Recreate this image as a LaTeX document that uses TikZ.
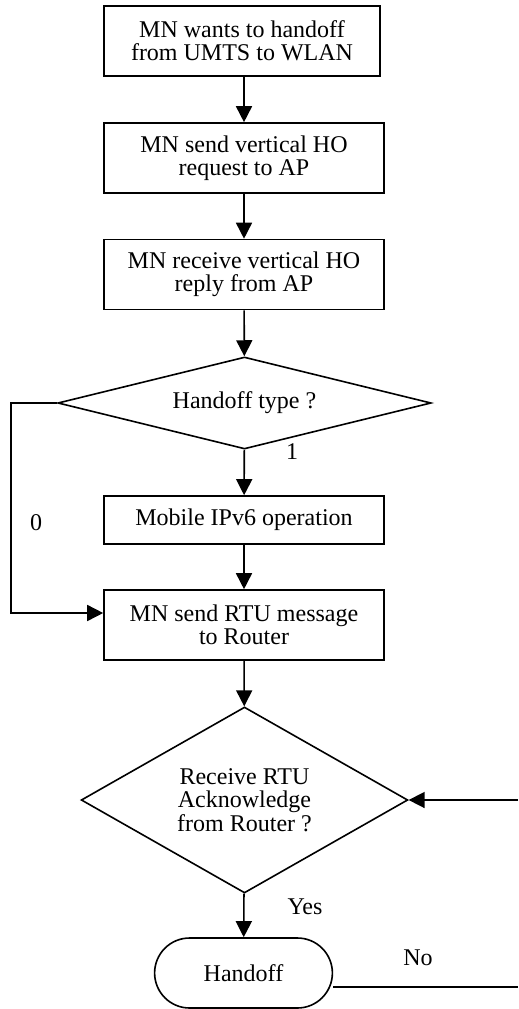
\documentclass[tikz,border=0pt]{standalone}
\usepackage{fontspec}
\setmainfont{Liberation Serif}
\usetikzlibrary{shapes.geometric,shapes.misc,arrows.meta}

\tikzset{
	txt/.style={font=\fontsize{18}{17.5}\selectfont, align=center},
	block/.style={txt, draw, line width=1.2pt, minimum width=210pt, minimum height=52.5pt, inner sep=2pt},
	decision/.style={txt, draw, diamond, line width=1.2pt, inner sep=0pt},
	term/.style={txt, draw, rounded rectangle, line width=1.2pt, minimum width=140pt, minimum height=52.5pt},
	arr/.style={line width=1.2pt, -{Triangle[length=12pt,width=12pt]}},
	lbl/.style={font=\fontsize{18}{18}\selectfont}
}

\begin{document}
\begin{tikzpicture}[x=0.75pt,y=-0.75pt]
	\useasboundingbox (0,0) rectangle (518,1009);

	\node [block, minimum width=207pt] (start) at (242,41) {MN wants to handoff\\from UMTS to WLAN};
	\node [block] (horeq) at (244,158) {MN send vertical HO\\request to AP};
	\node [block] (horep) at (244,274.5) {MN receive vertical HO\\reply from AP};
	\node [decision, shape aspect=4, minimum width=280pt, minimum height=69pt] (type) at (244.5,403) {Handoff type ?};
	\node [block, minimum height=36pt] (mip) at (244,520) {Mobile IPv6 operation};
	\node [block] (rtu) at (244,625) {MN send RTU message\\to Router};
	\node [decision, shape aspect=1.76, minimum width=245pt, minimum height=139.5pt] (ack) at (244.5,800) {Receive RTU\\Acknowledge\\from Router ?};
	\node [term] (hand) at (243.5,973) {Handoff};

	\coordinate (left) at (11,403);
	\coordinate (back) at (518,800);
	\coordinate (noend) at (518,987);

	\draw [arr] (start.south -| horeq.north) -- (horeq.north);
	\draw [arr] (horeq) -- (horep);
	\draw [arr] (horep) -- (type);
	\draw [arr] (type) -- (mip);
	\draw [arr] (mip) -- (rtu);
	\draw [arr] (type.west) -- (left) |- ([yshift=9pt]rtu.west);
	\draw [arr] (rtu) -- (ack);
	\draw [arr] (ack) -- (hand);
	\draw [arr] (back) -- (ack.east);
	\draw [line width=1.2pt] ([yshift=-10.5pt]hand.east) -- (noend);

	\node [lbl] (one) at (292,452) {1};
	\node [lbl] (zero) at (36,523) {0};
	\node [lbl] (yes) at (305,907) {Yes};
	\node [lbl] (no) at (418,958) {No};
\end{tikzpicture}
\end{document}
